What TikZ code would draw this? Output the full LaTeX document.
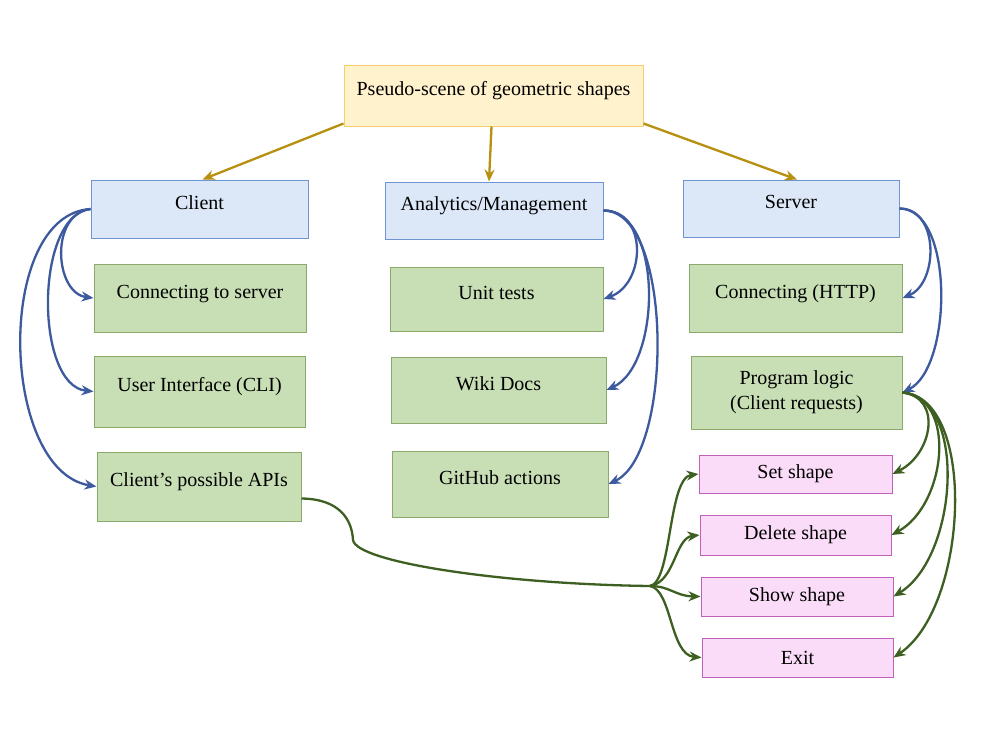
\documentclass[tikz,border=0pt]{standalone}
\usepackage{fontspec}
\setmainfont{Liberation Serif}
\usetikzlibrary{arrows.meta}
\definecolor{titlefill}{HTML}{FFF2CC}
\definecolor{titledraw}{HTML}{F3CE6B}
\definecolor{bluefill}{HTML}{DCE8F8}
\definecolor{bluedraw}{HTML}{6F94D2}
\definecolor{greenfill}{HTML}{C8DFB5}
\definecolor{greendraw}{HTML}{8AAA6C}
\definecolor{pinkfill}{HTML}{FADBF8}
\definecolor{pinkdraw}{HTML}{C060B8}
\definecolor{bluearrow}{HTML}{3D5A9E}
\definecolor{greenarrow}{HTML}{3E5F22}
\definecolor{goldarrow}{HTML}{B8900F}
\begin{document}
\begin{tikzpicture}[x=1pt,y=-1pt,
  font=\fontsize{20}{25}\selectfont,
  box/.style={draw, line width=1pt, inner sep=0pt, align=center},
  lifted/.style={text height=14pt, text depth=14pt},
  titlebox/.style={box, lifted, fill=titlefill, draw=titledraw},
  headbox/.style={box, lifted, fill=bluefill, draw=bluedraw},
  taskbox/.style={box, lifted, fill=greenfill, draw=greendraw},
  cmdbox/.style={box, fill=pinkfill, draw=pinkdraw},
  conn/.style={line width=2.3pt, -{Stealth[length=12pt,width=10pt]}},
  goldconn/.style={conn, draw=goldarrow},
  blueconn/.style={conn, draw=bluearrow},
  greenconn/.style={conn, draw=greenarrow},
  greenline/.style={line width=2.3pt, draw=greenarrow},
]
\useasboundingbox (0,0) rectangle (987,737);
\fill[white] (0,0) rectangle (987,737);

% title
\node[titlebox, minimum width=299pt, minimum height=61pt] (title) at (493.5,95.5) {Pseudo-scene of geometric shapes};

% headers
\node[headbox, minimum width=217pt, minimum height=58pt] (client) at (199.5,209) {Client};
\node[headbox, minimum width=218pt, minimum height=57pt] (analytics) at (494,210.5) {Analytics/Management};
\node[headbox, minimum width=216pt, minimum height=57pt] (server) at (791,208.5) {Server};

% client column
\node[taskbox, minimum width=212pt, minimum height=68pt] (connsrv) at (200,298) {Connecting to server};
\node[taskbox, minimum width=211pt, minimum height=71pt] (ui) at (199.5,391.5) {User Interface (CLI)};
\node[taskbox, minimum width=204pt, minimum height=69pt] (apis) at (199,486.5) {Client’s possible APIs};

% analytics column
\node[taskbox, minimum width=213pt, minimum height=64pt] (unit) at (496.5,299) {Unit tests};
\node[taskbox, minimum width=215pt, minimum height=66pt] (wiki) at (498.5,390) {Wiki Docs};
\node[taskbox, minimum width=216pt, minimum height=66pt] (gh) at (500,484) {GitHub actions};

% server column
\node[taskbox, minimum width=213pt, minimum height=68pt] (http) at (795.5,298) {Connecting (HTTP)};
\node[box, fill=greenfill, draw=greendraw, minimum width=211pt, minimum height=73pt] (plogic) at (796.5,392.5) {Program logic\\(Client requests)};

% commands
\node[cmdbox, minimum width=193pt, minimum height=38pt] (setshape) at (795.5,474) {Set shape};
\node[cmdbox, minimum width=191pt, minimum height=40pt] (delshape) at (795.5,535) {Delete shape};
\node[cmdbox, minimum width=192pt, minimum height=39pt] (showshape) at (797,596.5) {Show shape};
\node[cmdbox, minimum width=191pt, minimum height=39pt] (exitnode) at (797.5,657.5) {Exit};

\coordinate (junc) at (650,586);

% gold arrows
\draw[goldconn] ([yshift=3pt]title.south west) -- ([xshift=3pt]client.north);
\draw[goldconn] ([xshift=-2pt]title.south) -- ([xshift=-5pt]analytics.north);
\draw[goldconn] ([yshift=3pt]title.south east) -- ([xshift=6pt]server.north);

% client arrows
\draw[blueconn] (client.west) .. controls +(-41,5) and +(-39,-5) .. (connsrv.west);
\draw[blueconn] (client.west) .. controls +(-56,6) and +(-59,-6) .. (ui.west);
\draw[blueconn] (client.west) .. controls +(-96,6) and +(-97,-16) .. (apis.west);

% analytics arrows
\draw[blueconn] (analytics.east) .. controls +(45,0) and +(42,-15) .. (unit.east);
\draw[blueconn] (analytics.east) .. controls +(60,0) and +(55,-25) .. (wiki.east);
\draw[blueconn] (analytics.east) .. controls +(70,0) and +(65,-30) .. (gh.east);

% server arrows
\draw[blueconn] (server.east) .. controls +(40,0) and +(36,-15) .. (http.east);
\draw[blueconn] (server.east) .. controls +(55,0) and +(50,-25) .. (plogic.east);

% program logic to commands
\draw[greenconn] (plogic.east) .. controls +(40,5) and +(40,-20) .. (setshape.east);
\draw[greenconn] (plogic.east) .. controls +(55,5) and +(55,-30) .. (delshape.east);
\draw[greenconn] (plogic.east) .. controls +(65,5) and +(65,-40) .. (showshape.east);
\draw[greenconn] (plogic.east) .. controls +(75,5) and +(75,-50) .. (exitnode.east);

% APIs to commands
\draw[greenline] ([yshift=-12pt]apis.east) .. controls (340,499) and (352,520) .. (353,540)
  .. controls (356,562) and (500,584) .. (junc);
\draw[greenconn] (junc) .. controls (672,582) and (668,478) .. (setshape.west);
\draw[greenconn] (junc) .. controls (675,582) and (675,538) .. (delshape.west);
\draw[greenconn] (junc) .. controls (670,586) and (675,596) .. (showshape.west);
\draw[greenconn] (junc) .. controls (672,590) and (670,655) .. (exitnode.west);
\end{tikzpicture}
\end{document}
